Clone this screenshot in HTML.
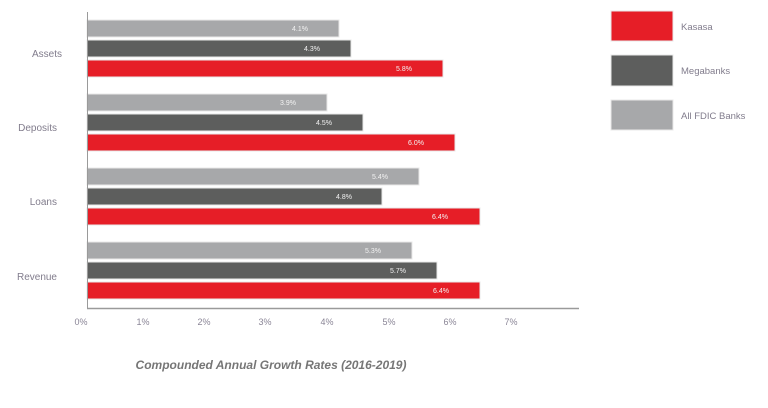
<!DOCTYPE html>
<html><head><meta charset="utf-8"><style>
html,body{margin:0;padding:0;background:#fff;width:768px;height:408px;overflow:hidden}
svg text{font-family:"Liberation Sans",sans-serif}
</style></head><body>
<svg width="768" height="408" viewBox="0 0 768 408" xmlns="http://www.w3.org/2000/svg">
<g fill="#817c8c" font-size="10" text-anchor="end">
<text x="62" y="57">Assets</text>
<text x="57" y="131">Deposits</text>
<text x="57" y="205">Loans</text>
<text x="57" y="280">Revenue</text>
</g>
<g stroke="#e8e8e8" stroke-width="1">
<rect x="87" y="20" width="252" height="17" fill="#a7a8aa"/>
<rect x="87" y="40" width="264" height="17" fill="#5d5e5d"/>
<rect x="87" y="60" width="356" height="17" fill="#e61e27"/>
<rect x="87" y="94" width="240" height="17" fill="#a7a8aa"/>
<rect x="87" y="114" width="276" height="17" fill="#5d5e5d"/>
<rect x="87" y="134" width="368" height="17" fill="#e61e27"/>
<rect x="87" y="168" width="332" height="17" fill="#a7a8aa"/>
<rect x="87" y="188" width="295" height="17" fill="#5d5e5d"/>
<rect x="87" y="208" width="393" height="17" fill="#e61e27"/>
<rect x="87" y="242" width="325" height="17" fill="#a7a8aa"/>
<rect x="87" y="262" width="350" height="17" fill="#5d5e5d"/>
<rect x="87" y="282" width="393" height="17" fill="#e61e27"/>
</g>
<g fill="#f2f2f2" font-size="7" text-anchor="middle">
<text x="300" y="31">4.1%</text>
<text x="312" y="51">4.3%</text>
<text x="404" y="71">5.8%</text>
<text x="288" y="105">3.9%</text>
<text x="324" y="125">4.5%</text>
<text x="416" y="145">6.0%</text>
<text x="380" y="179">5.4%</text>
<text x="344" y="199">4.8%</text>
<text x="440" y="219">6.4%</text>
<text x="373" y="253">5.3%</text>
<text x="398" y="273">5.7%</text>
<text x="441" y="293">6.4%</text>
</g>
<line x1="87.5" y1="12" x2="87.5" y2="309" stroke="#9a9a9a" stroke-width="1"/>
<line x1="87" y1="308.5" x2="579" y2="308.5" stroke="#9a9a9a" stroke-width="1.5"/>
<g fill="#8a8596" font-size="9" text-anchor="middle">
<text x="81" y="325">0%</text>
<text x="143" y="325">1%</text>
<text x="204" y="325">2%</text>
<text x="265" y="325">3%</text>
<text x="327" y="325">4%</text>
<text x="389" y="325">5%</text>
<text x="450" y="325">6%</text>
<text x="511" y="325">7%</text>
</g>
<text x="271" y="369" text-anchor="middle" font-size="12" font-style="italic" font-weight="bold" fill="#767676">Compounded Annual Growth Rates  (2016-2019)</text>
<rect x="611" y="11" width="62" height="30" fill="#e61e27" stroke="#e8e8e8"/>
<rect x="611" y="55" width="62" height="31" fill="#5d5e5d" stroke="#e8e8e8"/>
<rect x="611" y="100" width="62" height="30" fill="#a7a8aa" stroke="#e8e8e8"/>
<g fill="#817c8c" font-size="9.5">
<text x="681" y="30">Kasasa</text>
<text x="681" y="74">Megabanks</text>
<text x="681" y="119">All FDIC Banks</text>
</g>
</svg>
</body></html>
